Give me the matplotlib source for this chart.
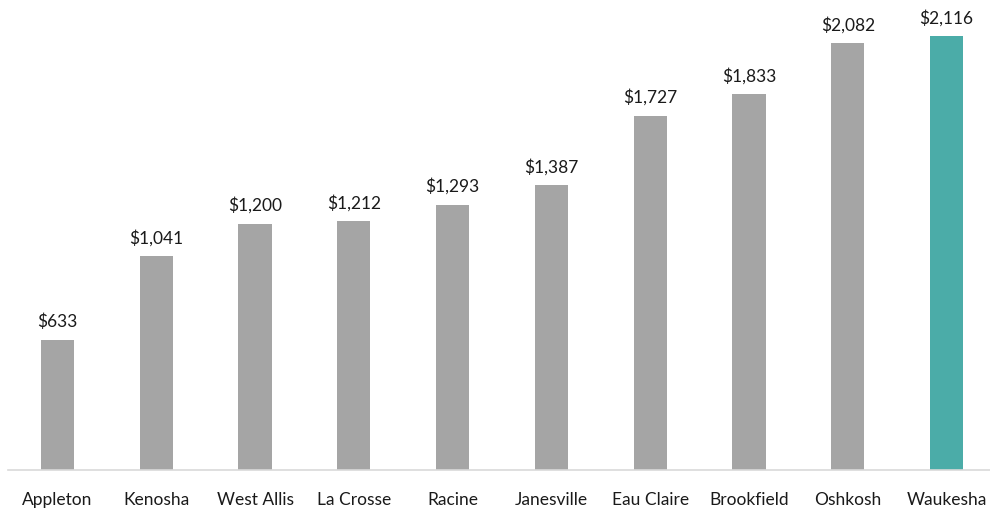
import matplotlib
matplotlib.use('Agg')
import matplotlib.pyplot as plt

plt.rcParams['font.family'] = ['Lato', 'DejaVu Sans']

cities = ['Appleton', 'Kenosha', 'West Allis', 'La Crosse', 'Racine',
          'Janesville', 'Eau Claire', 'Brookfield', 'Oshkosh', 'Waukesha']
values = [633, 1041, 1200, 1212, 1293, 1387, 1727, 1833, 2082, 2116]
highlight = 'Waukesha'

gray = '#A5A5A5'
teal = '#4BACA8'
colors = [teal if c == highlight else gray for c in cities]

fig = plt.figure(figsize=(9.9, 5.14), dpi=100)
ax = fig.add_axes([8 / 990, 44 / 514, 988 / 990, 470 / 514])

x = range(len(cities))
bars = ax.bar(x, values, width=0.335, color=colors, zorder=2)

# value labels above each bar
for xi, v in zip(x, values):
    ax.annotate(f'${v:,}', (xi, v), xytext=(0, 7), textcoords='offset points',
                ha='center', va='bottom', fontsize=12.5, color='#1a1a1a')

ax.set_xlim(-0.5, len(cities) - 0.5)
ax.set_ylim(0, 2291)
ax.set_xticks(list(x))
ax.set_xticklabels(cities, fontsize=12.5, color='#1a1a1a')
ax.tick_params(axis='x', length=0, pad=16)
ax.set_yticks([])

for s in ['top', 'right', 'left']:
    ax.spines[s].set_visible(False)
ax.spines['bottom'].set_color('#D9D9D9')
ax.spines['bottom'].set_linewidth(1.2)

fig.savefig('out.png', dpi=100)
